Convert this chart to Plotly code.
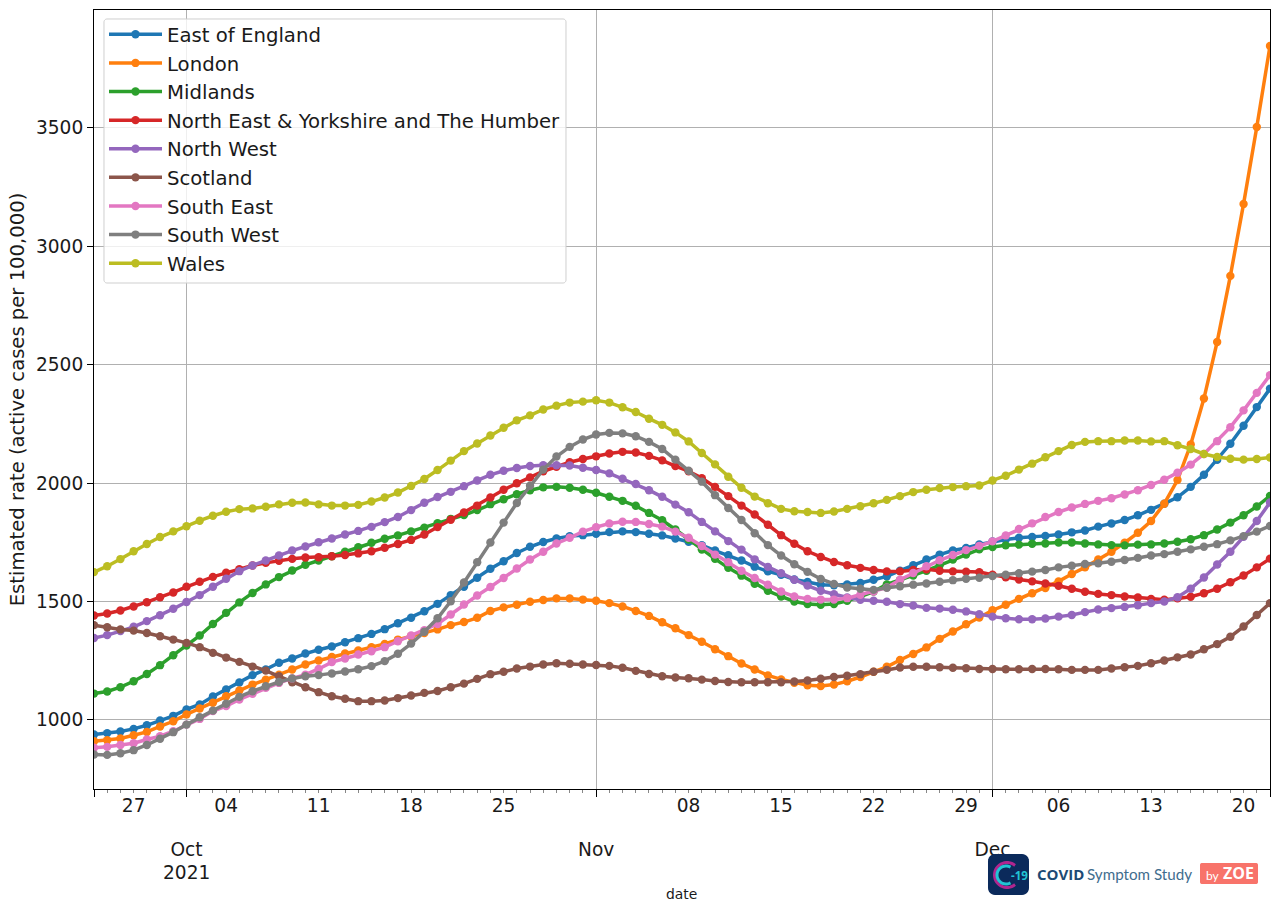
import math
import pandas as pd
import plotly.graph_objects as go

dates = pd.date_range("2021-09-24", "2021-12-22", freq="D")
x_start, x_end = "2021-09-24", "2021-12-22"
week_ticks = ["2021-09-27","2021-10-04","2021-10-11","2021-10-18","2021-10-25","2021-11-08",
              "2021-11-15","2021-11-22","2021-11-29","2021-12-06","2021-12-13","2021-12-20"]
week_labels = ["27","04","11","18","25","08","15","22","29","06","13","20"]
month_ticks = ["2021-09-24","2021-10-01","2021-11-01","2021-12-01","2021-12-22"]
month_labels = ["","Oct","Nov","Dec",""]
y_ticks = [1000,1500,2000,2500,3000,3500]

east_of_england = [938,944,951,962,977,997,1017,1044,1065,1099,1128,1158,1189,1213,1241,1259,1280,1296,1310,1328,1345,1363,1383,1408,1431,1459,1490,1527,1562,1600,1638,
  1670,1705,1731,1751,1766,1776,1780,1786,1793,1796,1793,1786,1779,1766,1752,1738,1715,1695,1673,1647,1627,1613,1593,1582,1571,1568,1572,1578,1592,
  1606,1630,1653,1677,1698,1715,1726,1741,1753,1762,1769,1772,1777,1783,1792,1800,1816,1829,1844,1864,1887,1913,1940,1984,2035,2098,2166,2242,2321,2399]
london = [910,914,921,935,949,972,994,1023,1048,1072,1100,1124,1149,1170,1191,1213,1234,1251,1266,1280,1293,1307,1321,1339,1353,1367,1382,1400,1413,1431,1460,
  1475,1486,1499,1506,1513,1513,1508,1503,1493,1479,1460,1439,1412,1387,1358,1330,1298,1269,1238,1213,1188,1171,1157,1146,1143,1149,1163,1181,1203,
  1224,1253,1278,1306,1342,1373,1404,1432,1463,1486,1511,1535,1557,1585,1616,1644,1677,1710,1748,1790,1840,1913,2013,2163,2357,2596,2875,3179,3504,3846]
midlands = [1111,1120,1138,1163,1194,1231,1273,1314,1356,1405,1452,1496,1536,1572,1603,1631,1655,1673,1691,1710,1729,1748,1765,1779,1796,1812,1831,1849,1865,1886,1911,
  1932,1953,1970,1982,1984,1980,1972,1959,1942,1925,1904,1874,1843,1804,1762,1719,1680,1642,1609,1575,1545,1521,1500,1489,1486,1489,1503,1521,1542,
  1572,1590,1610,1630,1653,1677,1698,1720,1730,1737,1740,1744,1745,1749,1749,1745,1741,1738,1737,1740,1741,1745,1752,1763,1780,1804,1833,1864,1901,1946]
north_east_yorks = [1441,1449,1462,1479,1497,1518,1538,1562,1583,1604,1621,1636,1652,1663,1672,1680,1686,1687,1691,1696,1703,1712,1727,1743,1760,1783,1814,1845,1876,1905,1939,
  1972,1999,2024,2050,2069,2088,2102,2113,2125,2132,2129,2115,2096,2072,2050,2021,1984,1945,1905,1867,1824,1780,1744,1712,1688,1667,1653,1642,1633,
  1627,1627,1633,1636,1630,1627,1626,1624,1613,1602,1593,1585,1576,1566,1554,1541,1532,1527,1521,1517,1511,1507,1513,1520,1535,1554,1581,1610,1644,1681]
north_west = [1346,1358,1375,1393,1417,1442,1469,1498,1527,1562,1596,1628,1652,1673,1694,1715,1732,1750,1766,1783,1798,1815,1835,1857,1886,1917,1941,1963,1987,2011,2035,
  2052,2064,2072,2075,2075,2074,2065,2055,2041,2018,1996,1970,1942,1909,1877,1836,1796,1755,1719,1678,1646,1619,1592,1567,1545,1531,1517,1507,1503,
  1499,1489,1483,1473,1470,1465,1458,1446,1436,1429,1425,1425,1428,1436,1443,1455,1466,1472,1477,1484,1493,1500,1518,1554,1601,1656,1710,1773,1840,1918]
scotland = [1400,1391,1382,1377,1367,1353,1339,1325,1307,1283,1263,1245,1225,1208,1184,1159,1138,1117,1100,1089,1079,1079,1082,1092,1103,1114,1122,1138,1153,1173,1193,
  1203,1217,1225,1234,1239,1237,1234,1232,1228,1220,1207,1194,1184,1179,1176,1170,1164,1160,1159,1159,1159,1159,1162,1166,1174,1181,1186,1193,1203,
  1211,1221,1224,1224,1222,1220,1218,1215,1215,1214,1214,1215,1215,1214,1211,1211,1211,1217,1222,1228,1239,1251,1264,1276,1298,1320,1351,1394,1443,1493]
south_east = [882,886,894,901,917,931,952,980,1004,1037,1058,1086,1110,1135,1156,1175,1191,1215,1244,1259,1276,1290,1307,1332,1356,1379,1405,1445,1487,1525,1561,
  1599,1639,1677,1710,1745,1769,1795,1814,1829,1837,1836,1827,1816,1795,1769,1734,1698,1666,1630,1599,1571,1542,1521,1511,1508,1508,1514,1528,1542,
  1559,1592,1620,1649,1674,1696,1717,1735,1754,1779,1806,1830,1857,1878,1897,1912,1925,1936,1952,1970,1992,2014,2044,2078,2123,2177,2236,2307,2381,2456]
south_west = [854,852,859,872,894,920,948,980,1011,1039,1068,1097,1121,1142,1160,1175,1184,1189,1196,1204,1214,1227,1248,1279,1322,1372,1429,1501,1580,1666,1749,
  1833,1916,1989,2057,2112,2153,2184,2205,2212,2210,2198,2174,2144,2099,2052,2006,1949,1895,1844,1788,1738,1694,1657,1625,1595,1574,1559,1554,1549,
  1558,1564,1571,1576,1583,1590,1596,1600,1607,1613,1619,1626,1633,1644,1651,1658,1661,1668,1675,1684,1694,1700,1710,1720,1731,1742,1758,1776,1795,1819]
wales = [1624,1649,1679,1712,1743,1772,1796,1818,1841,1862,1879,1890,1893,1900,1910,1917,1918,1910,1905,1905,1908,1922,1939,1960,1988,2017,2055,2095,2135,2167,2201,
  2234,2265,2286,2311,2327,2340,2344,2350,2340,2320,2300,2272,2246,2214,2176,2127,2079,2027,1980,1943,1915,1891,1881,1878,1874,1880,1891,1902,1915,
  1929,1945,1962,1972,1979,1983,1987,1990,2011,2031,2057,2082,2109,2135,2161,2174,2177,2177,2180,2180,2176,2177,2160,2144,2123,2110,2103,2099,2102,2108]

series = [("East of England", east_of_england, "#1f77b4"), ("London", london, "#ff7f0e"),
          ("Midlands", midlands, "#2ca02c"), ("North East & Yorkshire and The Humber", north_east_yorks, "#d62728"),
          ("North West", north_west, "#9467bd"), ("Scotland", scotland, "#8c564b"),
          ("South East", south_east, "#e377c2"), ("South West", south_west, "#7f7f7f"), ("Wales", wales, "#bcbd22")]

W, H = 1280, 912
L, R, T, B = 94, 1270, 10, 789
px = lambda v: (v - L) / (R - L)
py = lambda v: (B - v) / (B - T)
FONT = "DejaVu Sans"
TXT = "#1a1a1a"
TICK = 18.6

fig = go.Figure()
for name, vals, col in series:
    fig.add_trace(go.Scatter(x=dates, y=vals, name=name, mode="lines+markers",
                             line=dict(color=col, width=3.5), marker=dict(color=col, size=8.4)))
fig.add_trace(go.Scatter(x=[x_start], y=[None], xaxis="x2", showlegend=False, hoverinfo="skip"))

def round_rect(x0, y0, x1, y1, r):
    pts = []
    for cx, cy, a0 in ((x1-r, y0+r, -90), (x1-r, y1-r, 0), (x0+r, y1-r, 90), (x0+r, y0+r, 180)):
        for k in range(7):
            a = math.radians(a0 + k * 15)
            pts.append((cx + r * math.cos(a), cy + r * math.sin(a)))
    return "M " + " L ".join(f"{px(a):.5f},{py(b):.5f}" for a, b in pts) + " Z"

def arc(cx, cy, r, a0, a1):
    n = 30
    pts = [(cx + r * math.cos(math.radians(a0 + (a1-a0)*k/n)), cy + r * math.sin(math.radians(a0 + (a1-a0)*k/n))) for k in range(n+1)]
    return "M " + " L ".join(f"{px(a):.5f},{py(b):.5f}" for a, b in pts)

shapes = [
    dict(type="path", xref="paper", yref="paper", path=round_rect(104, 19, 566, 283, 3), fillcolor="rgba(255,255,255,0.8)",
         line=dict(color="#cfcfcf", width=1), layer="above"),
    dict(type="path", xref="paper", yref="paper", path=round_rect(988, 854, 1029, 895, 7), fillcolor="#0b2a5b", line=dict(width=0), layer="above"),
    dict(type="path", xref="paper", yref="paper", path=arc(1007, 875, 12.5, 50, 310), line=dict(color="#b0268f", width=3), layer="above"),
    dict(type="path", xref="paper", yref="paper", path=arc(1006, 875, 9, 60, 300), line=dict(color="#22c4d4", width=3), layer="above"),
    dict(type="path", xref="paper", yref="paper", path=round_rect(1200, 863, 1258, 884, 2), fillcolor="#f8736a", line=dict(width=0), layer="above"),
]
def note(x, y, text, size, color, family="Lato", **kw):
    return dict(xref="paper", yref="paper", x=px(x), y=py(y), text=text, showarrow=False,
                xanchor="left", yanchor="middle", font=dict(family=family, size=size, color=color), **kw)
annotations = [
    note(1035, 874, "<b>COVID</b>", 15, "#1c4a75", family="Open Sans"),
    note(1085, 874, "Symptom Study", 15.2, "#3f6d8e"),
    note(1204, 875, "by", 12, "white"),
    note(1221, 873, "<b>ZOE</b>", 16, "white", family="Open Sans"),
    note(1009, 875, "<b>-19</b>", 11.5, "#22c4d4", family="Open Sans"),
    dict(xref="paper", yref="paper", x=px(186), y=py(872), text="2021", showarrow=False, xanchor="center", yanchor="middle",
         font=dict(family=FONT, size=TICK, color=TXT)),
    dict(xref="paper", yref="paper", x=px(681), y=py(894), text="date", showarrow=False, xanchor="center", yanchor="middle",
         font=dict(family=FONT, size=13.9, color=TXT)),
]

fig.update_layout(
    width=W, height=H, autosize=False,
    margin=dict(l=L, r=W-R, t=T, b=H-B, pad=0),
    paper_bgcolor="white", plot_bgcolor="white",
    font=dict(family=FONT, size=TICK, color=TXT),
    showlegend=True,
    legend=dict(x=px(104), y=py(15), xanchor="left", yanchor="top", bgcolor="rgba(0,0,0,0)",
                borderwidth=0, itemwidth=53, font=dict(family=FONT, size=19.7, color=TXT),
                traceorder="normal", itemclick=False),
    xaxis=dict(type="date", range=[x_start, x_end], tickmode="array", tickvals=week_ticks, ticktext=week_labels,
               ticks="outside", ticklen=3, tickcolor="#888888", showgrid=False, zeroline=False,
               showline=True, linecolor="black", linewidth=1, mirror=True,
               minor=dict(dtick=86400000, ticks="outside", ticklen=3, tickcolor="#888888", showgrid=False),
               tickfont=dict(family=FONT, size=TICK, color=TXT), ticklabelstandoff=-3),
    xaxis2=dict(type="date", range=[x_start, x_end], overlaying="x", side="bottom", anchor="y", tickmode="array",
                tickvals=month_ticks, ticktext=month_labels, ticks="outside", ticklen=7, tickcolor="black",
                showgrid=True, gridcolor="#b0b0b0", gridwidth=1, showline=False, zeroline=False,
                tickfont=dict(family=FONT, size=TICK, color=TXT), ticklabelstandoff=37),
    yaxis=dict(range=[708, 3998], tickmode="array", tickvals=y_ticks, ticks="outside", ticklen=6, tickcolor="black",
               showgrid=True, gridcolor="#b0b0b0", gridwidth=1, zeroline=False, showline=True, linecolor="black",
               linewidth=1, mirror=True, tickfont=dict(family=FONT, size=TICK, color=TXT),
               title=dict(text="Estimated rate (active cases per 100,000)", font=dict(family=FONT, size=19.6, color=TXT), standoff=6)),
    shapes=shapes, annotations=annotations,
)
fig.write_html("out.html", config=dict(displayModeBar=False),
               post_script="document.body.style.margin='0';document.documentElement.style.overflow='hidden';")
